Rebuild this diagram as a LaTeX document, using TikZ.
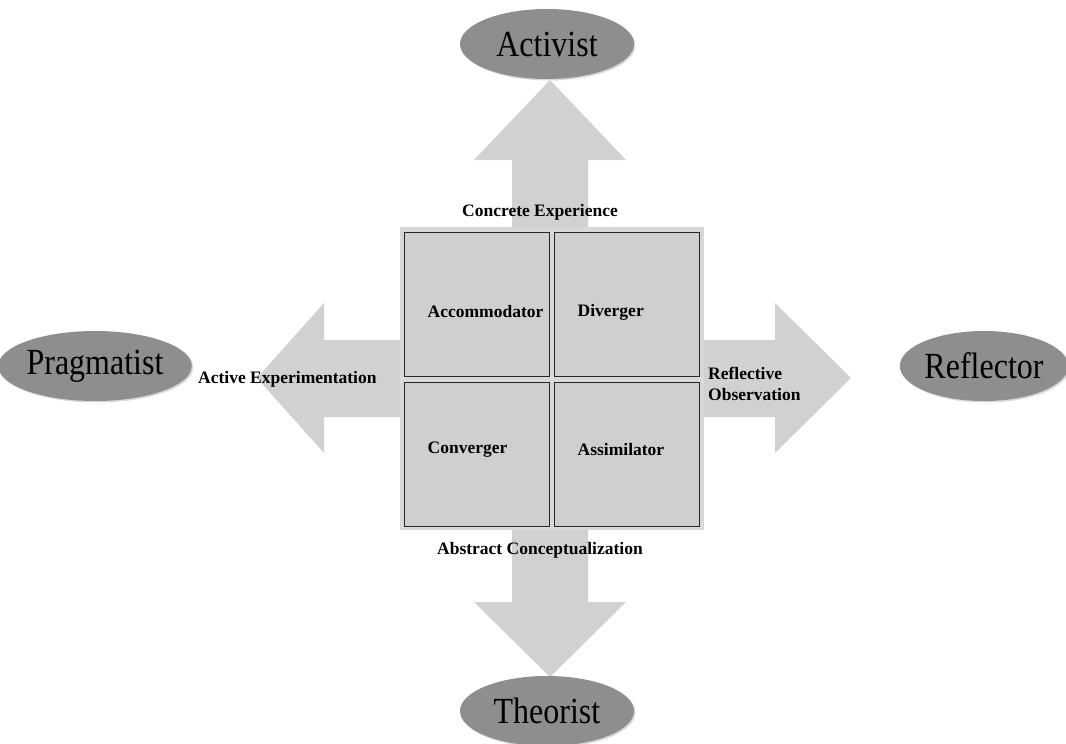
\documentclass[tikz,border=0pt]{standalone}
\usepackage{fontspec}
\setmainfont{Liberation Serif}
\usetikzlibrary{shapes.geometric,shadows}
\definecolor{arrowgray}{RGB}{209,209,209}
\definecolor{boxgray}{RGB}{207,207,207}
\definecolor{learnergray}{RGB}{142,142,142}
\newcommand{\tallname}[1]{\scalebox{1}[1.15]{#1}}
\tikzset{
  learner/.style={ellipse,fill=learnergray,minimum width=174pt,minimum height=70pt,inner sep=0pt,
    font=\fontsize{32}{32}\selectfont,
    drop shadow={shadow xshift=1.5pt,shadow yshift=-1.5pt,opacity=0.3}},
  quadrant/.style={draw=black!85,line width=1pt,fill=boxgray,minimum width=145pt,minimum height=144pt,inner sep=0pt},
  tag/.style={font=\bfseries\fontsize{17.5}{21}\selectfont,inner sep=0pt},
  blockarrow/.style={fill=arrowgray}
}
\begin{document}
\begin{tikzpicture}[x=1pt,y=-1pt]
        \useasboundingbox (0,0) rectangle (1066,744);
        % block arrows
        \fill[blockarrow] (512,229) -- (512,160) -- (474,160) -- (550,80) -- (626,160) -- (588,160) -- (588,229) -- cycle;
        \fill[blockarrow] (512,528) -- (512,602) -- (474,602) -- (550,677) -- (626,602) -- (588,602) -- (588,528) -- cycle;
        \fill[blockarrow] (402,340) -- (324,340) -- (324,303) -- (257,378) -- (324,453) -- (324,417) -- (402,417) -- cycle;
        \fill[blockarrow] (702,340) -- (775,340) -- (775,303) -- (851,378) -- (775,453) -- (775,417) -- (702,417) -- cycle;
        % learning styles
        \node[learner] (activist) at (547,44) {\tallname{Activist}};
        \node[learner] (theorist) at (547,711) {\tallname{Theorist}};
        \node[learner] (pragmatist) at (95,366) {\tallname{Pragmatist}};
        \node[learner,minimum width=164pt] (reflector) at (984,366) {\tallname{Reflector}};
        % the four quadrants
        \fill[arrowgray!85!white] (400,227) rectangle (704,530);
        \node[quadrant] (accom) at (476.5,304) {};
        \node[quadrant] (diverg) at (626.5,304) {};
        \node[quadrant] (converg) at (476.5,454) {};
        \node[quadrant] (assim) at (626.5,454) {};
        \node[tag,anchor=west] (accomtxt) at ([xshift=24pt,yshift=-8pt]accom.west) {Accommodator};
        \node[tag,anchor=west] (divergtxt) at ([xshift=24pt,yshift=-8pt]diverg.west) {Diverger};
        \node[tag,anchor=west] (convergtxt) at ([xshift=24pt,yshift=4pt]converg.west) {Converger};
        \node[tag,anchor=west] (assimtxt) at ([xshift=24pt,yshift=4pt]assim.west) {Assimilator};
        % axis labels
        \node[tag] (concrete) at (540,212) {Concrete Experience};
        \node[tag] (abstract) at (540,550) {Abstract Conceptualization};
        \node[tag,anchor=west] (active) at (198,379) {Active Experimentation};
        \node[tag,anchor=west,align=left] (reflective) at (708,384) {Reflective\\Observation};
    \end{tikzpicture}
\end{document}
